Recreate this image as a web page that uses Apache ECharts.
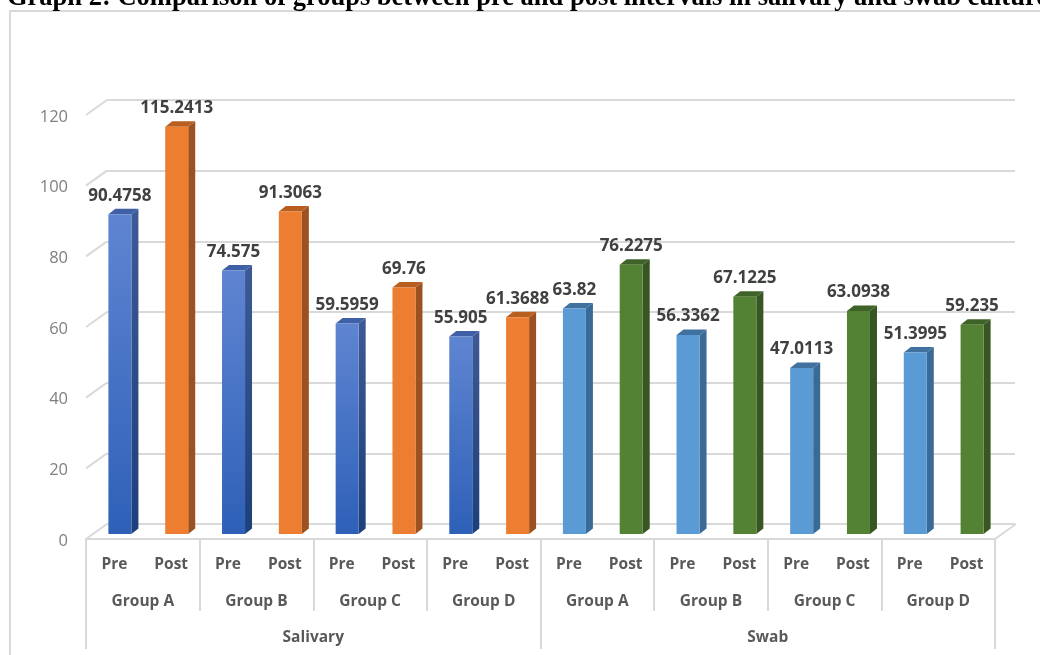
<!DOCTYPE html>
<html><head><meta charset="utf-8">
<style>html,body{margin:0;padding:0;background:#fff;overflow:hidden}#c{width:1040px;height:655px}</style>
<script src="https://cdn.jsdelivr.net/npm/echarts@6/dist/echarts.min.js"></script>
</head><body><div id="c"></div>
<script>
const titleText = 'Graph 2: Comparison of groups between pre and post intervals in salivary and swab culture';
const intervalLabels = ['Pre','Post','Pre','Post','Pre','Post','Pre','Post','Pre','Post','Pre','Post','Pre','Post','Pre','Post'];
const groupLabels = ['Group A','Group B','Group C','Group D','Group A','Group B','Group C','Group D'];
const specimenLabels = ['Salivary','Swab'];
const salivaryPre = [90.4758, 74.575, 59.5959, 55.905];
const salivaryPost = [115.2413, 91.3063, 69.76, 61.3688];
const swabPre = [63.82, 56.3362, 47.0113, 51.3995];
const swabPost = [76.2275, 67.1225, 63.0938, 59.235];
const yTicks = [0,20,40,60,80,100,120];

const GRID = '#d9d9d9', DX = 7, DY = 5.5, SHIFT_X = 5.5, SHIFT_Y = 5, WALL_X = 21, WALL_Y = 15;

function grad(a, b){ return {type:'linear',x:0,y:0,x2:0,y2:1,colorStops:[{offset:0,color:a},{offset:1,color:b}]}; }

function barRenderer(c){
  return function(params, api){
    const idx = api.value(0), val = api.value(1);
    const top = api.coord([idx, val]), base = api.coord([idx, 0]);
    const w = api.size([1,0])[0] * 0.405;
    const x0 = top[0] - w/2 + SHIFT_X, x1 = x0 + w;
    const yt = top[1] - SHIFT_Y, yb = base[1] - SHIFT_Y;
    return {type:'group', children:[
      {type:'polygon', shape:{points:[[x1,yt],[x1+DX,yt-DY],[x1+DX,yb-DY],[x1,yb]]}, style:{fill:c.side}},
      {type:'polygon', shape:{points:[[x0,yt],[x0+DX,yt-DY],[x1+DX,yt-DY],[x1,yt]]}, style:{fill:c.top}},
      {type:'rect', shape:{x:x0,y:yt,width:w,height:yb-yt}, style:{fill:c.front}},
      {type:'text', x:(x0+x1)/2, y:yt-18.5, style:{text:String(val), align:'center', verticalAlign:'middle',
        font:'bold 17px "Open Sans"', fill:'#404040'}}
    ]};
  };
}
function barSeries(name, values, offset, c){
  return {type:'custom', name, xAxisIndex:0, yAxisIndex:0, z:5, clip:false,
    encode:{x:0,y:1},
    data: values.map((v,i)=>[i*2+offset, v]),
    renderItem: barRenderer(c)};
}

const option = {
  animation:false,
  backgroundColor:'#fff',
  title:{text:titleText, left:2, top:-20, textStyle:{fontFamily:'"Liberation Serif"',fontWeight:'bold',fontSize:26.5,color:'#000'}},
  graphic:[{type:'rect', z:-10, shape:{x:10,y:11,width:1200,height:800}, style:{fill:'#fff',stroke:GRID,lineWidth:2}}],
  grid:[
    {left:86, width:909, top:115, height:424},
    {left:107, width:908, top:100, height:424},
    {left:86, width:909, top:117, height:424}
  ],
  xAxis:[
    {type:'category', gridIndex:0, data:intervalLabels, position:'bottom',
      axisLine:{show:true,lineStyle:{color:GRID,width:2}}, axisTick:{show:false}, splitLine:{show:false},
      axisLabel:{interval:0, margin:18, color:'#595959', fontFamily:'"Open Sans"', fontWeight:'bold', fontSize:15.5}},
    {type:'category', gridIndex:0, data:groupLabels, position:'bottom',
      axisLine:{show:false}, axisTick:{show:true,length:72,inside:false,lineStyle:{color:GRID,width:2}},
      axisLabel:{interval:0, margin:55, color:'#595959', fontFamily:'"Open Sans"', fontWeight:'bold', fontSize:15.5}},
    {type:'category', gridIndex:0, data:specimenLabels, position:'bottom',
      axisLine:{show:false}, axisTick:{show:true,length:110,lineStyle:{color:GRID,width:2}},
      axisLabel:{interval:0, margin:91, color:'#595959', fontFamily:'"Open Sans"', fontWeight:'bold', fontSize:15.5}},
    {type:'category', gridIndex:1, data:intervalLabels, show:false},
    {type:'category', gridIndex:2, data:intervalLabels, show:false}
  ],
  yAxis:[
    {type:'value', gridIndex:0, min:0, max:120, interval:20,
      axisLine:{show:false}, axisTick:{show:false}, splitLine:{show:false}, axisLabel:{show:false}},
    {type:'value', gridIndex:1, min:0, max:120, interval:20,
      axisLine:{show:false}, axisTick:{show:false}, axisLabel:{show:false},
      splitLine:{show:true,lineStyle:{color:GRID,width:2}}},
    {type:'value', gridIndex:2, min:0, max:120, interval:20,
      axisLine:{show:false}, axisTick:{show:false}, splitLine:{show:false},
      axisLabel:{margin:18, color:'#7f7f7f', fontFamily:'"Open Sans"', fontSize:16.5}}
  ],
  series:[
    {type:'custom', name:'wall', xAxisIndex:0, yAxisIndex:0, z:1, clip:false, silent:true,
      encode:{x:0,y:1}, data:yTicks.map(v=>[0,v]),
      renderItem(params, api){
        const p = api.coord([0, api.value(1)]);
        const x = p[0] - api.size([1,0])[0]/2;
        const children = [{type:'line', shape:{x1:x,y1:p[1],x2:x+WALL_X,y2:p[1]-WALL_Y}, style:{stroke:GRID,lineWidth:2}}];
        if (api.value(1) === 0) {
          const xr = api.coord([intervalLabels.length-1,0])[0] + api.size([1,0])[0]/2;
          children.push({type:'line', shape:{x1:xr,y1:p[1],x2:xr+WALL_X,y2:p[1]-WALL_Y}, style:{stroke:GRID,lineWidth:2}});
        }
        return {type:'group', children};
      }},
    barSeries('Salivary Pre', salivaryPre, 0, {front:grad('#5f85d1','#2e60b8'), side:grad('#3d5a96','#1d3f7a'), top:'#3f5fa6'}),
    barSeries('Salivary Post', salivaryPost, 1, {front:'#ed7d31', side:'#9c5220', top:'#b85f20'}),
    barSeries('Swab Pre', swabPre, 8, {front:'#5b9bd5', side:'#3a6a96', top:'#41719f'}),
    barSeries('Swab Post', swabPost, 9, {front:'#548235', side:'#375623', top:'#3f6228'})
  ]
};
const chart = echarts.init(document.getElementById('c'));
chart.setOption(option);
</script></body></html>
